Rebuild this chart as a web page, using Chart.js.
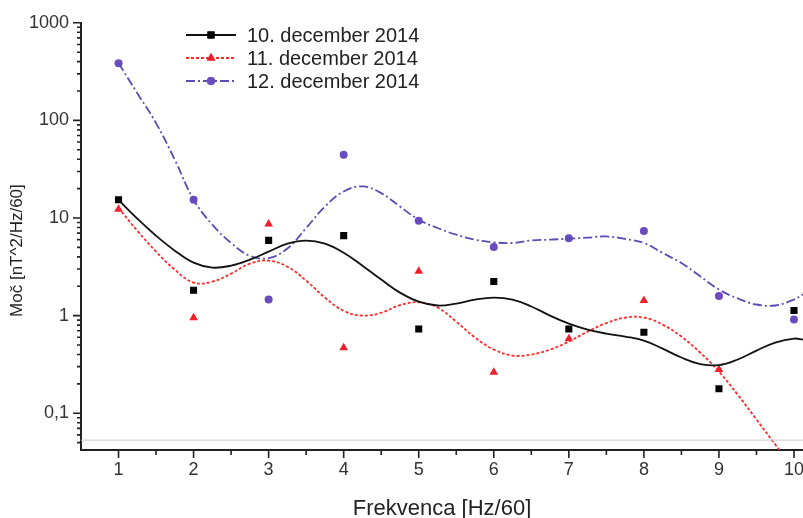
<!DOCTYPE html>
<html>
<head>
<meta charset="utf-8">
<script src="https://cdn.jsdelivr.net/npm/chart.js@4.4.1/dist/chart.umd.min.js"></script>
<style>
  html, body { margin: 0; background: #fff; overflow: hidden; }
  #wrap { width: 803px; height: 518px; }
  canvas { display: block; }
</style>
</head>
<body>
<div id="wrap"><canvas id="chart"></canvas></div>
<script>
const freq = [1, 2, 3, 4, 5, 6, 7, 8, 9, 10];
const dec10 = [15.4, 1.82, 5.9, 6.6, 0.73, 2.24, 0.73, 0.675, 0.178, 1.13];
const dec11 = [12.3, 0.95, 8.7, 0.47, 2.84, 0.263, 0.58, 1.43, 0.28, null];
const dec12 = [386, 15.4, 1.46, 44.5, 9.4, 5.05, 6.19, 7.36, 1.59, 0.91];

// smooth fitted curves
const fitX = [1, 1.25, 1.5, 1.75, 2, 2.25, 2.5, 2.75, 3, 3.25, 3.5, 3.75, 4, 4.25, 4.5, 4.75,
  5, 5.25, 5.5, 5.75, 6, 6.25, 6.5, 6.75, 7, 7.25, 7.5, 7.75, 8, 8.25, 8.5, 8.75,
  9, 9.25, 9.5, 9.75, 10, 10.12];
const fit10 = [15.36, 9.84, 6.59, 4.63, 3.49, 3.1, 3.25, 3.74, 4.52, 5.46, 5.86, 5.46, 4.41, 3.25, 2.34, 1.72,
  1.39, 1.27, 1.33, 1.46, 1.53, 1.46, 1.24, 1.0, 0.828, 0.719, 0.654, 0.61, 0.555, 0.459, 0.372, 0.319,
  0.311, 0.355, 0.438, 0.529, 0.582, 0.568];
const fit11 = [12.66, 7.41, 4.52, 2.96, 2.18, 2.23, 2.69, 3.41, 3.66, 3.17, 2.28, 1.53, 1.12, 1.0, 1.07, 1.28,
  1.37, 1.21, 0.868, 0.596, 0.449, 0.39, 0.399, 0.449, 0.542, 0.686, 0.838, 0.954, 0.954, 0.809, 0.61, 0.418,
  0.267, 0.155, 0.0862, 0.0478, 0.0265, 0.02];
const fit12 = [386, 190, 93.8, 39.5, 15.4, 8.54, 5.55, 4.1, 3.88, 4.87, 7.9, 13.1, 18.7, 21.1, 18.0, 13.1,
  9.61, 7.9, 6.75, 6.0, 5.63, 5.55, 5.9, 6.0, 6.14, 6.29, 6.48, 6.1, 5.55, 4.38, 3.46, 2.53,
  1.85, 1.5, 1.3, 1.27, 1.46, 1.65];

const seriesNames = ["10. december 2014", "11. december 2014", "12. december 2014"];
const baseline = 0.053;

const FONT = "'Liberation Sans', Arial, sans-serif";
const pts = (ys) => freq.map((x, i) => ({ x: x, y: ys[i] }));
const curve = (ys) => fitX.map((x, i) => ({ x: x, y: ys[i] }));

const styles = [
  { color: "#111111", point: "rect", radius: 5, dash: [], pointColor: "#000000" },
  { color: "#ff2a2a", point: "triangle", radius: 5, dash: [3, 2], pointColor: "#ee1f2b" },
  { color: "#5a4cb6", point: "circle", radius: 4, dash: [9, 3, 2, 3], pointColor: "#6a4cc0" },
];

const fits = [fit10, fit11, fit12];
const marks = [dec10, dec11, dec12];

const datasets = [{
  label: "baseline",
  data: [{ x: 0.5, y: baseline }, { x: 10.12, y: baseline }],
  showLine: true,
  borderColor: "#c9c9c9",
  borderWidth: 1,
  pointRadius: 0,
}];
styles.forEach((s, i) => {
  datasets.push({
    label: seriesNames[i] + " fit",
    data: curve(fits[i]),
    showLine: true,
    borderColor: s.color,
    borderWidth: 1.8,
    borderDash: s.dash,
    tension: 0.4,
    pointRadius: 0,
  });
  datasets.push({
    label: seriesNames[i],
    data: pts(marks[i]),
    showLine: false,
    pointStyle: s.point,
    pointRadius: s.radius,
    pointBackgroundColor: s.pointColor,
    pointBorderColor: s.pointColor,
    pointBorderWidth: 0,
  });
});

// major/minor tick marks of different lengths, outside the plot
const tickMarks = {
  id: "tickMarks",
  afterDraw(chart) {
    const ctx = chart.ctx;
    const xs = chart.scales.x;
    const ys = chart.scales.y;
    ctx.save();
    ctx.strokeStyle = "#222";
    ctx.lineWidth = 1.6;
    ctx.beginPath();
    xs.ticks.forEach((t) => {
      const px = xs.getPixelForValue(t.value);
      const len = Number.isInteger(t.value) ? 8 : 5;
      ctx.moveTo(px, xs.top);
      ctx.lineTo(px, xs.top + len);
    });
    ys.ticks.forEach((t) => {
      const py = ys.getPixelForValue(t.value);
      const lg = Math.log10(t.value);
      const len = Math.abs(lg - Math.round(lg)) < 1e-9 ? 8 : 4;
      ctx.moveTo(ys.right, py);
      ctx.lineTo(ys.right - len, py);
    });
    ctx.stroke();
    ctx.restore();
  },
};

const legendBox = {
  id: "legendBox",
  afterDraw(chart) {
    const ctx = chart.ctx;
    const rows = [35, 58, 81];
    ctx.save();
    styles.forEach((s, i) => {
      const y = rows[i];
      ctx.strokeStyle = s.color;
      ctx.lineWidth = 1.8;
      ctx.setLineDash(s.dash);
      ctx.beginPath();
      ctx.moveTo(186, y);
      ctx.lineTo(236, y);
      ctx.stroke();
      ctx.setLineDash([]);
      ctx.fillStyle = s.pointColor;
      Chart.helpers.drawPoint(ctx, { pointStyle: s.point, radius: s.radius, borderWidth: 0 }, 211, y);
      ctx.fill();
      ctx.fillStyle = "#222";
      ctx.font = "20px " + FONT;
      ctx.textBaseline = "middle";
      ctx.textAlign = "left";
      ctx.fillText(seriesNames[i], 247, y + 1);
    });
    ctx.restore();
  },
};

new Chart(document.getElementById("chart"), {
  type: "scatter",
  data: { datasets: datasets },
  plugins: [tickMarks, legendBox],
  options: {
    responsive: true,
    maintainAspectRatio: false,
    animation: false,
    layout: { autoPadding: false, padding: { top: 22, right: 0, left: 0, bottom: 0 } },
    plugins: {
      legend: { display: false },
      tooltip: { enabled: false },
    },
    scales: {
      x: {
        type: "linear",
        min: 0.5,
        max: 10.12,
        afterBuildTicks: (scale) => {
          const t = [];
          for (let v = 1; v <= 10; v += 0.5) t.push({ value: v });
          scale.ticks = t;
        },
        afterFit: (scale) => {
          scale.height = 68;
          scale.paddingRight = 0;
          scale.paddingLeft = 0;
        },
        grid: { display: false, drawTicks: false },
        border: { display: true, color: "#222", width: 2 },
        ticks: {
          autoSkip: false,
          maxRotation: 0,
          padding: 9,
          color: "#333",
          font: { family: FONT, size: 18 },
          callback: (v) => (Number.isInteger(v) ? String(v) : ""),
        },
        title: {
          display: true,
          text: "Frekvenca [Hz/60]",
          color: "#222",
          font: { family: FONT, size: 22, lineHeight: 1 },
          padding: { top: 0, bottom: -2 },
        },
      },
      y: {
        type: "logarithmic",
        min: 0.042,
        max: 1000,
        afterBuildTicks: (scale) => {
          const t = [];
          for (let k = -2; k <= 3; k++) {
            for (let m = 1; m <= 9; m++) {
              const v = Number((m * Math.pow(10, k)).toPrecision(3));
              if (v >= scale.min && v <= scale.max) t.push({ value: v });
            }
          }
          scale.ticks = t;
        },
        afterFit: (scale) => { scale.width = 81; },
        grid: { display: false, drawTicks: false },
        border: { display: true, color: "#222", width: 2 },
        ticks: {
          autoSkip: false,
          padding: 12,
          color: "#333",
          font: { family: FONT, size: 18 },
          callback: (v) => {
            const lg = Math.log10(v);
            if (Math.abs(lg - Math.round(lg)) > 1e-9) return "";
            return v < 1 ? String(v).replace(".", ",") : String(v);
          },
        },
        title: {
          display: true,
          text: "Moč [nT^2/Hz/60]      ",
          color: "#222",
          font: { family: FONT, size: 17, lineHeight: 1.2 },
          padding: { top: 7, bottom: 0 },
        },
      },
    },
  },
});
</script>
</body>
</html>
